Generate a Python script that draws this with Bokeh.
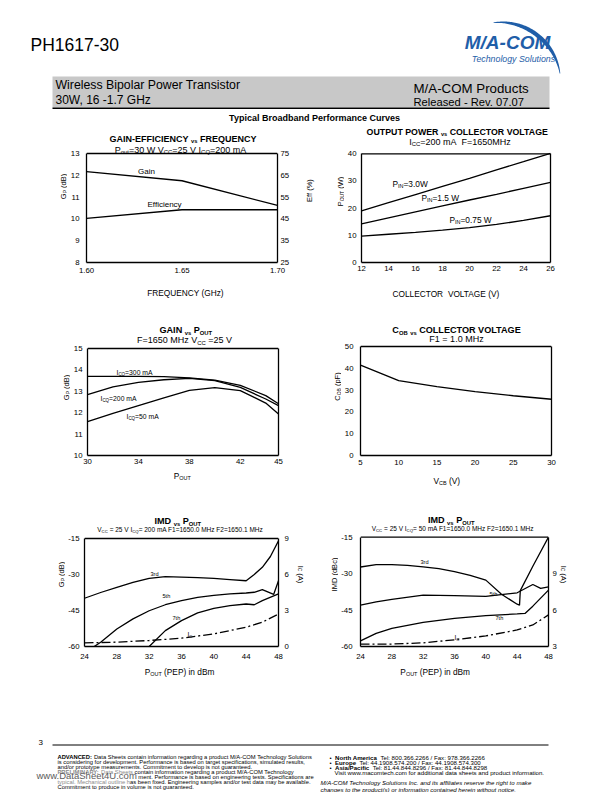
import numpy as np
from bokeh.plotting import figure
from bokeh.models import Range1d, LinearAxis, FixedTicker, Label, NumeralTickFormatter, CustomJSTickFormatter
from bokeh.layouts import column, row
from bokeh.embed import file_html
from bokeh.resources import INLINE

FONT = "Liberation Sans"
BLUE = "#1f5ea8"

# ---------------- data ----------------
ge_freq = [1.60, 1.65, 1.70]
ge_gain = [12.17, 11.75, 10.62]
ge_eff = [45.2, 49.2, 49.2]
ge_xticks = [1.60, 1.65, 1.70]
ge_yticks = [8, 9, 10, 11, 12, 13]
ge_effticks = [25, 35, 45, 55, 65, 75]

op_vcc = [12, 14, 16, 18, 20, 22, 24, 26]
op_pin30 = [19.0, 22.0, 25.0, 28.0, 31.0, 34.1, 37.1, 40.2]
op_pin15 = [14.2, 16.4, 18.6, 20.8, 23.0, 25.1, 27.3, 29.5]
op_pin075 = [9.7, 10.4, 11.1, 11.9, 12.8, 14.0, 15.5, 17.2]
op_xticks = [12, 14, 16, 18, 20, 22, 24, 26]
op_yticks = [0, 10, 20, 30, 40]

gp_pout = [30, 32, 34, 36, 38, 40, 42, 44, 45]
gp_icq300 = [13.70, 13.70, 13.70, 13.69, 13.63, 13.52, 13.28, 12.80, 12.42]
gp_icq200 = [12.84, 13.21, 13.42, 13.54, 13.60, 13.50, 13.18, 12.64, 12.33]
gp_icq50 = [11.58, 11.97, 12.33, 12.69, 13.04, 13.17, 13.03, 12.45, 11.94]
gp_xticks = [30, 34, 38, 42, 45]
gp_yticks = [10, 11, 12, 13, 14, 15]

cob_vcb = [5, 10, 15, 20, 25, 30]
cob_pf = [41.5, 34.3, 31.6, 29.3, 27.4, 25.8]
cob_xticks = [5, 10, 15, 20, 25, 30]
cob_yticks = [0, 10, 20, 30, 40, 50]

imd_xticks = [24, 28, 32, 36, 40, 44, 48]
imd_yticks = [-60, -45, -30, -15]

imdA_3rd_x = [24, 26, 28, 30, 32, 34, 36, 38, 40, 42, 44, 45, 46, 47, 48]
imdA_3rd_y = [-39.9, -37.5, -35.4, -33.3, -31.6, -30.9, -31.1, -31.3, -31.6, -32.1, -32.6, -30.0, -27.0, -22.5, -16.0]
imdA_5th_x = [25.2, 26, 28, 30, 32, 34, 36, 38, 40, 42, 44, 45, 46, 47.4, 48]
imdA_5th_y = [-60.0, -58.2, -52.7, -48.5, -45.1, -42.6, -40.9, -39.5, -38.7, -38.1, -37.7, -37.4, -36.3, -38.3, -32.6]
imdA_7th_x = [32, 34, 36, 38, 40, 42, 44, 45, 46, 48]
imdA_7th_y = [-60.0, -53.4, -49.2, -46.0, -44.1, -43.0, -42.3, -42.6, -40.9, -38.1]
imdA_ic_x = [24, 28, 32, 36, 40, 44, 46, 48]
imdA_ic_y = [0.30, 0.36, 0.50, 0.69, 1.05, 1.61, 2.02, 2.71]
imdA_icticks = [0, 3, 6, 9]

imdB_3rd_x = [24, 26, 28, 30, 32, 34, 36, 38, 40, 42, 44, 44.3, 44.4, 46, 48]
imdB_3rd_y = [-27.3, -26.3, -26.3, -26.6, -27.2, -28.0, -29.2, -30.7, -32.7, -38.5, -42.6, -43.0, -37.0, -27.0, -15.0]
imdB_5th_x = [24, 26, 28, 32, 36, 40, 44, 46, 47, 48]
imdB_5th_y = [-43.0, -41.6, -40.6, -38.9, -39.1, -39.4, -37.9, -34.5, -36.1, -35.5]
imdB_7th_x = [24, 26, 28, 32, 36, 40, 44, 45, 46, 48]
imdB_7th_y = [-57.7, -54.6, -52.5, -50.1, -48.4, -47.3, -46.6, -46.4, -43.4, -36.8]
imdB_ic_x = [24, 28, 32, 36, 40, 44, 46, 48]
imdB_ic_y = [3.2, 3.2, 3.3, 3.55, 3.87, 4.36, 4.77, 5.6]
imdB_icticks = [3, 6, 9]

# ---------------- text metrics (Arial / Liberation Sans) ----------------
def _mk(groups):
    d = {}
    for chars, w in groups:
        for c in chars:
            d[c] = w
    return d

REG = _mk([(" ,.:/!;", 278), ("ijl", 222), ("ftI", 278), ("r-()", 333),
           ("0123456789abdeghnopqu", 556), ("cksvxyzJ", 500), ("m", 833), ("w", 722),
           ("=", 584), ("%", 889), ("ABEKPSVXY", 667), ("CDHNRU", 722), ("FTZ", 611),
           ("GOQ", 778), ("L", 556), ("M", 833), ("W", 944), ("\u2022", 350)])
BOLD = _mk([(" ,./", 278), ("ijlI", 278), ("ft:;-()", 333), ("r", 389),
            ("0123456789acesvxyk", 556), ("bdghnopqu", 611), ("z", 500), ("m", 889),
            ("w", 778), ("J", 556), ("=", 584), ("ABCDHKNRU", 722), ("EPSVXY", 667),
            ("FTZL", 611), ("GOQ", 778), ("M", 833), ("W", 944), ("%", 889)])

def tw(s, size, bold=False):
    t = BOLD if bold else REG
    return sum(t.get(c, 556) for c in s) * size / 1000.0

# style: (scale, bold, italic, subscript offset)
STY = {"n": (1.0, False, False, 0.0), "b": (1.0, True, False, 0.0),
       "i": (1.0, False, True, 0.0), "s": (0.66, False, False, 0.25),
       "bs": (0.64, True, False, 0.25)}


class Panel:
    """Places texts at page (picture) coordinates inside a figure's frame."""
    def __init__(self, fig, fl, fb):
        self.fig, self.fl, self.fb = fig, fl, fb

    def put(self, px, py, text, size, bold=False, italic=False, align="left",
            baseline="middle", angle=0.0, color="black"):
        fs = "normal"
        if bold and italic:
            fs = "bold italic"
        elif bold:
            fs = "bold"
        elif italic:
            fs = "italic"
        self.fig.add_layout(Label(x=px - self.fl, y=self.fb - py, x_units="screen", y_units="screen",
                                  text=text, text_font=FONT, text_font_size="%.2fpx" % size,
                                  text_font_style=fs, text_align=align, text_baseline=baseline,
                                  angle=angle, text_color=color))

    def rich(self, x, cy, pieces, size, align="center", angle=0.0):
        widths = []
        for pc in pieces:
            sc, bold, it, off = STY[pc[1]]
            widths.append(tw(pc[0], size * sc, bold))
        total = sum(widths)
        pos = {"center": -total / 2, "left": 0.0, "right": -total}[align]
        for pc, w in zip(pieces, widths):
            txt, st = pc[0], pc[1]
            color = pc[2] if len(pc) > 2 else "black"
            sc, bold, it, off = STY[st]
            core = txt.strip(" ")
            lead = tw(txt[:len(txt) - len(txt.lstrip(" "))], size * sc, bold)
            q = pos + lead
            if core:
                if angle == 0:
                    px, py = x + q, cy + 0.35 * size + off * size
                elif angle > 0:
                    px, py = x + 0.35 * size + off * size, cy - q
                else:
                    px, py = x - 0.35 * size - off * size, cy + q
                self.put(px, py, core, size * sc, bold=bold, italic=it, align="left",
                         baseline="alphabetic", angle=angle, color=color)
            pos += w


def style_axis(ax, standoff):
    ax.axis_line_color = "black"
    ax.axis_line_width = 1.3
    ax.major_tick_line_color = None
    ax.minor_tick_line_color = None
    ax.major_tick_out = 0
    ax.major_tick_in = 0
    ax.major_label_text_font = FONT
    ax.major_label_text_font_size = "7.8px"
    ax.major_label_text_color = "black"
    ax.major_label_standoff = standoff


def text_fig(x0, y0, x1, y1):
    f = figure(width=x1 - x0, height=y1 - y0, x_range=Range1d(x0, x1), y_range=Range1d(-y1, -y0),
               output_backend="svg", toolbar_location=None, title=None, min_border=0,
               x_axis_type=None, y_axis_type=None)
    f.outline_line_color = None
    f.xgrid.visible = False
    f.ygrid.visible = False
    return f, Panel(f, x0, y1)


def make_chart(fig_box, box, xr, yr, xt, yt, xs, ys, right=None):
    """Frame spans from the row top to the plot box bottom; the plot box is drawn by the axes."""
    x0, y0, x1, y1 = fig_box
    bl, bt, br, bb = box
    ymin, ymax = yr
    upp = (ymax - ymin) / float(bb - bt)
    ytop = ymax + (bt - y0) * upp
    p = figure(width=x1 - x0, height=y1 - y0, x_range=Range1d(*xr), y_range=Range1d(ymin, ytop),
               output_backend="svg", toolbar_location=None, title=None,
               min_border_left=bl - x0, min_border_right=x1 - br,
               min_border_top=0, min_border_bottom=y1 - bb)
    p.outline_line_color = None
    p.xgrid.visible = False
    p.ygrid.visible = False
    p.xaxis.ticker = FixedTicker(ticks=xt)
    p.yaxis.ticker = FixedTicker(ticks=yt)
    p.yaxis.bounds = (ymin, ymax)
    style_axis(p.xaxis, xs)
    style_axis(p.yaxis, ys)
    if right is not None:
        name, (rmin, rmax), rticks, rs = right
        rtop = rmax + (bt - y0) * (rmax - rmin) / float(bb - bt)
        p.extra_y_ranges = {name: Range1d(rmin, rtop)}
        ax = LinearAxis(y_range_name=name, ticker=FixedTicker(ticks=rticks), bounds=(rmin, rmax))
        style_axis(ax, rs)
    else:
        ax = LinearAxis(ticker=FixedTicker(ticks=[]), bounds=(ymin, ymax))
        style_axis(ax, 0)
    p.add_layout(ax, "right")
    p.segment(x0=xr[0], y0=ymax, x1=xr[1], y1=ymax, line_color="black", line_width=1.3)
    return p, Panel(p, bl, bb)


neg_fmt = CustomJSTickFormatter(code="return tick.toString();")
LW = 1.3
DASHDOT = "9 3 2 3"
VS = [("vs", "bs")]

# ---------------- header ----------------
hdr, H = text_fig(0, 0, 612, 128)
hdr.quad(left=52, right=549, bottom=-107, top=-76, fill_color="#c8c8c8", line_color=None)
hdr.segment(x0=52, y0=-107.8, x1=549, y1=-107.8, line_color="black", line_width=1.5)
t = np.linspace(np.radians(5), np.radians(100), 80)
wv = 0.6 + 3.6 * np.sin(np.pi * (t - t[0]) / (t[-1] - t[0]))
R, cxl, cyl = 57.0, 503.0, -78.0
xo, yo = cxl + R * np.cos(t), cyl + R * np.sin(t)
xi, yi = cxl + (R - wv) * np.cos(t), cyl + (R - wv) * np.sin(t)
hdr.patch(np.r_[xo, xi[::-1]], np.r_[yo, yi[::-1]], fill_color=BLUE, line_color=None)
H.put(30, 44, "PH1617-30", 17.5)
H.put(507, 42, "M/A-COM", 19, bold=True, italic=True, align="center", color=BLUE)
H.put(513, 58, "Technology Solutions", 8.8, italic=True, align="center", color=BLUE)
H.put(55, 84, "Wireless Bipolar Power Transistor", 12.3)
H.put(55, 99, "30W, 16 -1.7 GHz", 12.0)
H.put(413, 88, "M/A-COM Products", 13.3)
H.put(413, 101, "Released - Rev. 07.07", 11.2)
H.put(314, 117, "Typical Broadband Performance Curves", 9, bold=True, align="center")

# ---------------- row 1 ----------------
L1, PL1 = text_fig(0, 128, 67, 284)
p1, P1 = make_chart((67, 128, 292, 284), (86, 153, 279, 262), (1.60, 1.70), (8, 13),
                    ge_xticks, ge_yticks, xs=5, ys=7, right=("eff", (25, 75), ge_effticks, 3))
M1, PM1 = text_fig(292, 128, 344, 284)
p2, P2 = make_chart((344, 128, 560, 284), (358, 155, 550, 271), (12, 26), (0, 40),
                    op_xticks, op_yticks, xs=3, ys=5)
E1, PE1 = text_fig(560, 128, 612, 284)

p1.xaxis.formatter = NumeralTickFormatter(format="0.00")
p1.line(ge_freq, ge_gain, line_color="black", line_width=LW)
p1.line(ge_freq, ge_eff, line_color="black", line_width=LW, y_range_name="eff")
P1.rich(182.5, 135.5, [("GAIN-EFFICIENCY ", "b")] + VS + [(" FREQUENCY", "b")], 9.0)
P1.rich(180, 146, [("P", "n"), ("out", "s"), ("=30 W V", "n"), ("CC", "s"), ("=25 V I", "n"),
                   ("CQ", "s"), ("=200 mA", "n")], 9)
P1.put(137.5, 171, "Gain", 8)
P1.put(147, 204, "Efficiency", 8)
PL1.rich(60, 208, [("G", "n"), ("P", "s"), (" (dB)", "n")], 7.5, angle=np.pi / 2)
PM1.rich(306, 212, [("Eff (%)", "n")], 7.5, angle=np.pi / 2)

p2.line(op_vcc, op_pin30, line_color="black", line_width=LW)
p2.line(op_vcc, op_pin15, line_color="black", line_width=LW)
p2.line(op_vcc, op_pin075, line_color="black", line_width=LW)
P2.rich(454.5, 137, [("OUTPUT POWER ", "b")] + VS + [(" COLLECTOR VOLTAGE", "b")], 8.8)
P2.rich(456.5, 147, [("I", "n"), ("CC", "s"), ("=200 mA", "n"), ("  F=1650MHz", "n")], 9)
P2.rich(389, 190, [("P", "n"), ("IN", "s"), ("=3.0W", "n")], 8.3, align="left")
P2.rich(418, 204, [("P", "n"), ("IN", "s"), ("=1.5 W", "n")], 8.3, align="left")
P2.rich(446, 226, [("P", "n"), ("IN", "s"), ("=0.75 W", "n")], 8.3, align="left")
PM1.rich(337.5, 213, [("P", "n"), ("OUT", "s"), (" (W)", "n")], 7.5, angle=np.pi / 2)

# ---------------- row 2 ----------------
L2, PL2 = text_fig(0, 284, 70, 469)
p3, P3 = make_chart((70, 284, 285, 469), (84, 348, 278, 455), (30, 45), (10, 15),
                    gp_xticks, gp_yticks, xs=3, ys=5)
M2, PM2 = text_fig(285, 284, 341, 469)
p4, P4 = make_chart((341, 284, 560, 469), (357, 346, 551, 455), (5, 30), (0, 50),
                    cob_xticks, cob_yticks, xs=4, ys=7)
E2, PE2 = text_fig(560, 284, 612, 469)

# x-axis titles of row 1 live in the top of row 2
P3.rich(182, 290, [("FREQUENCY (GHz)", "n")], 8.3)
P4.rich(443, 291, [("COLLECTOR", "n"), ("  VOLTAGE (V)", "n")], 8.3)

p3.line(gp_pout, gp_icq300, line_color="black", line_width=LW)
p3.line(gp_pout, gp_icq200, line_color="black", line_width=LW)
p3.line(gp_pout, gp_icq50, line_color="black", line_width=LW)
P3.rich(182.3, 326.7, [("GAIN ", "b")] + VS + [(" P", "b"), ("OUT", "bs")], 9.1)
P3.rich(181, 336.7, [("F=1650 MHz V", "n"), ("CC", "s"), (" =25 V", "n")], 9)
P3.rich(113, 370, [("I", "n"), ("CQ", "s"), ("=300 mA", "n")], 6.8, align="left")
P3.rich(97, 396, [("I", "n"), ("CQ", "s"), ("=200 mA", "n")], 6.8, align="left")
P3.rich(123, 414, [("I", "n"), ("CQ", "s"), ("=50 mA", "n")], 6.8, align="left")
PL2.rich(63.5, 401, [("G", "n"), ("P", "s"), (" (dB)", "n")], 7.5, angle=np.pi / 2)

p4.line(cob_vcb, cob_pf, line_color="black", line_width=LW)
P4.rich(453.8, 326.7, [("C", "b"), ("OB", "bs"), (" ", "b")] + VS + [(" COLLECTOR VOLTAGE", "b")], 9.1)
P4.rich(453, 335.7, [("F1 = 1.0 MHz", "n")], 9)
PM2.rich(334, 400, [("C", "n"), ("OB", "s"), (" (pF)", "n")], 7.5, angle=np.pi / 2)

# ---------------- row 3 ----------------
L3, PL3 = text_fig(0, 469, 65, 664)
p5, P5 = make_chart((65, 469, 292, 664), (84, 538, 278, 646), (24, 48), (-60, -15),
                    imd_xticks, imd_yticks, xs=7, ys=5, right=("ic", (0, 9), imdA_icticks, 6))
M3, PM3 = text_fig(292, 469, 338, 664)
p6, P6 = make_chart((338, 469, 559, 664), (358, 537, 550, 647), (24, 48), (-60, -15),
                    imd_xticks, imd_yticks, xs=7, ys=8, right=("ic", (3, 12), imdB_icticks, 4))
E3, PE3 = text_fig(559, 469, 612, 664)
p5.yaxis[0].formatter = neg_fmt
p6.yaxis[0].formatter = neg_fmt

# x-axis titles of row 2 live in the top of row 3
P5.rich(181.7, 472.3, [("P", "n"), ("OUT", "s")], 8.3)
P6.rich(444.3, 478.3, [("V", "n"), ("CB", "s"), (" (V)", "n")], 8.3)

p5.line(imdA_3rd_x, imdA_3rd_y, line_color="black", line_width=LW)
p5.line(imdA_5th_x, imdA_5th_y, line_color="black", line_width=LW)
p5.line(imdA_7th_x, imdA_7th_y, line_color="black", line_width=LW)
p5.line(imdA_ic_x, imdA_ic_y, line_color="black", line_width=LW, line_dash=DASHDOT, y_range_name="ic")
P5.rich(177.3, 517.7, [("IMD ", "b")] + VS + [(" P", "b"), ("OUT", "bs")], 9.1)
P5.rich(179.7, 527, [("V", "n"), ("CC", "s"), (" = 25 V I", "n"), ("CQ", "s"),
                     ("= 200 mA F1=1650.0 MHz F2=1650.1 MHz", "n")], 6.5)
P5.put(150, 573, "3rd", 5.6)
P5.put(162, 595, "5th", 5.6)
P5.put(172, 617, "7th", 5.6)
P5.rich(187, 632, [("I", "n"), ("C", "s")], 6.5, align="left")
PL3.rich(58, 592, [("G", "n"), ("P", "s"), (" (dB)", "n")], 7.5, angle=np.pi / 2)
PM3.rich(303, 592, [("I", "n"), ("C", "s"), (" (A)", "n")], 7.5, angle=-np.pi / 2)

p6.line(imdB_3rd_x, imdB_3rd_y, line_color="black", line_width=LW)
p6.line(imdB_5th_x, imdB_5th_y, line_color="black", line_width=LW)
p6.line(imdB_7th_x, imdB_7th_y, line_color="black", line_width=LW)
p6.line(imdB_ic_x, imdB_ic_y, line_color="black", line_width=LW, line_dash=DASHDOT, y_range_name="ic")
P6.rich(448.7, 517.7, [("IMD ", "b")] + VS + [(" P", "b"), ("OUT", "bs")], 9.1)
P6.rich(450.3, 527, [("V", "n"), ("CC", "s"), (" = 25 V I", "n"), ("CQ", "s"),
                     ("= 50 mA F1=1650.0 MHz F2=1650.1 MHz", "n")], 6.5)
P6.put(418, 562, "3rd", 5.6)
P6.put(487, 594, "5th", 5.6)
P6.put(493, 618, "7th", 5.6)
P6.rich(452, 636, [("I", "n"), ("C", "s")], 6.5, align="left")
PM3.rich(331.3, 592, [("IMD (dBc)", "n")], 7.5, angle=np.pi / 2)
PE3.rich(566, 592, [("I", "n"), ("C", "s"), (" (A)", "n")], 7.5, angle=-np.pi / 2)

# ---------------- footer ----------------
ftr, F = text_fig(0, 664, 612, 792)
F.rich(179, 668.3, [("P", "n"), ("OUT", "s"), (" (PEP) in dBm", "n")], 8.3)
F.rich(434.7, 668.3, [("P", "n"), ("OUT", "s"), (" (PEP) in dBm", "n")], 8.3)
ftr.segment(x0=52, y0=-744.5, x1=548, y1=-744.5, line_color="black", line_width=1.0)
F.put(38, 741.5, "3", 8)
FS = 5.8
GRAY = "#8a8a8a"
left_lines = [
    [("ADVANCED:", "b"), (" Data Sheets contain information regarding a product M/A-COM Technology Solutions", "n")],
    [("is considering for development. Performance is based on target specifications, simulated results,", "n")],
    [("and/or prototype measurements. Commitment to develop is not guaranteed.", "n")],
    [("PRELIMINARY:", "b", GRAY), (" Data Sheets", "n", GRAY), (" contain information regarding a product M/A-COM Technology", "n")],
    None,
    [("typical. Mechanical outline h", "n", GRAY), ("as been fixed. Engineering samples and/or test data may be available.", "n")],
    [("Commitment to produce in volume is not guaranteed.", "n")],
]
for i, ln in enumerate(left_lines):
    cy = 754.5 + 5.05 * i
    if ln is None:
        wm = "www.DataSheet4U.com"
        F.put(36, cy + 0.3, wm, 9.5, color="#5c5c5c")
        F.rich(36 + tw(wm, 9.5) + 1.0, cy, [("ment. Performance is based on engineering tests. Specifications are", "n")], FS, align="left")
    else:
        F.rich(57, cy, ln, FS, align="left")

FR = 6.1
right_lines = [
    (329, 754.5, [("\u2022", "n"), ("  North America", "b"), ("  Tel: 800.366.2266 / Fax: 978.366.2266", "n")]),
    (329, 759.6, [("\u2022", "n"), ("  Europe", "b"), ("  Tel: 44.1908.574.200 / Fax: 44.1908.574.300", "n")]),
    (329, 764.7, [("\u2022", "n"), ("  Asia/Pacific", "b"), ("  Tel: 81.44.844.8296 / Fax: 81.44.844.8298", "n")]),
    (334, 770.0, [("Visit www.macomtech.com for additional data sheets and product information.", "n")]),
    (320, 780.2, [("M/A-COM Technology Solutions Inc. and its affiliates reserve the right to make", "i")]),
    (320, 786.4, [("changes to the product(s) or information contained herein without notice.", "i")]),
]
for x, cy, pcs in right_lines:
    F.rich(x, cy, pcs, FR, align="left")

layout = column(hdr, row(L1, p1, M1, p2, E1), row(L2, p3, M2, p4, E2),
                row(L3, p5, M3, p6, E3), ftr)
open("out.html", "w").write(file_html(layout, INLINE))
